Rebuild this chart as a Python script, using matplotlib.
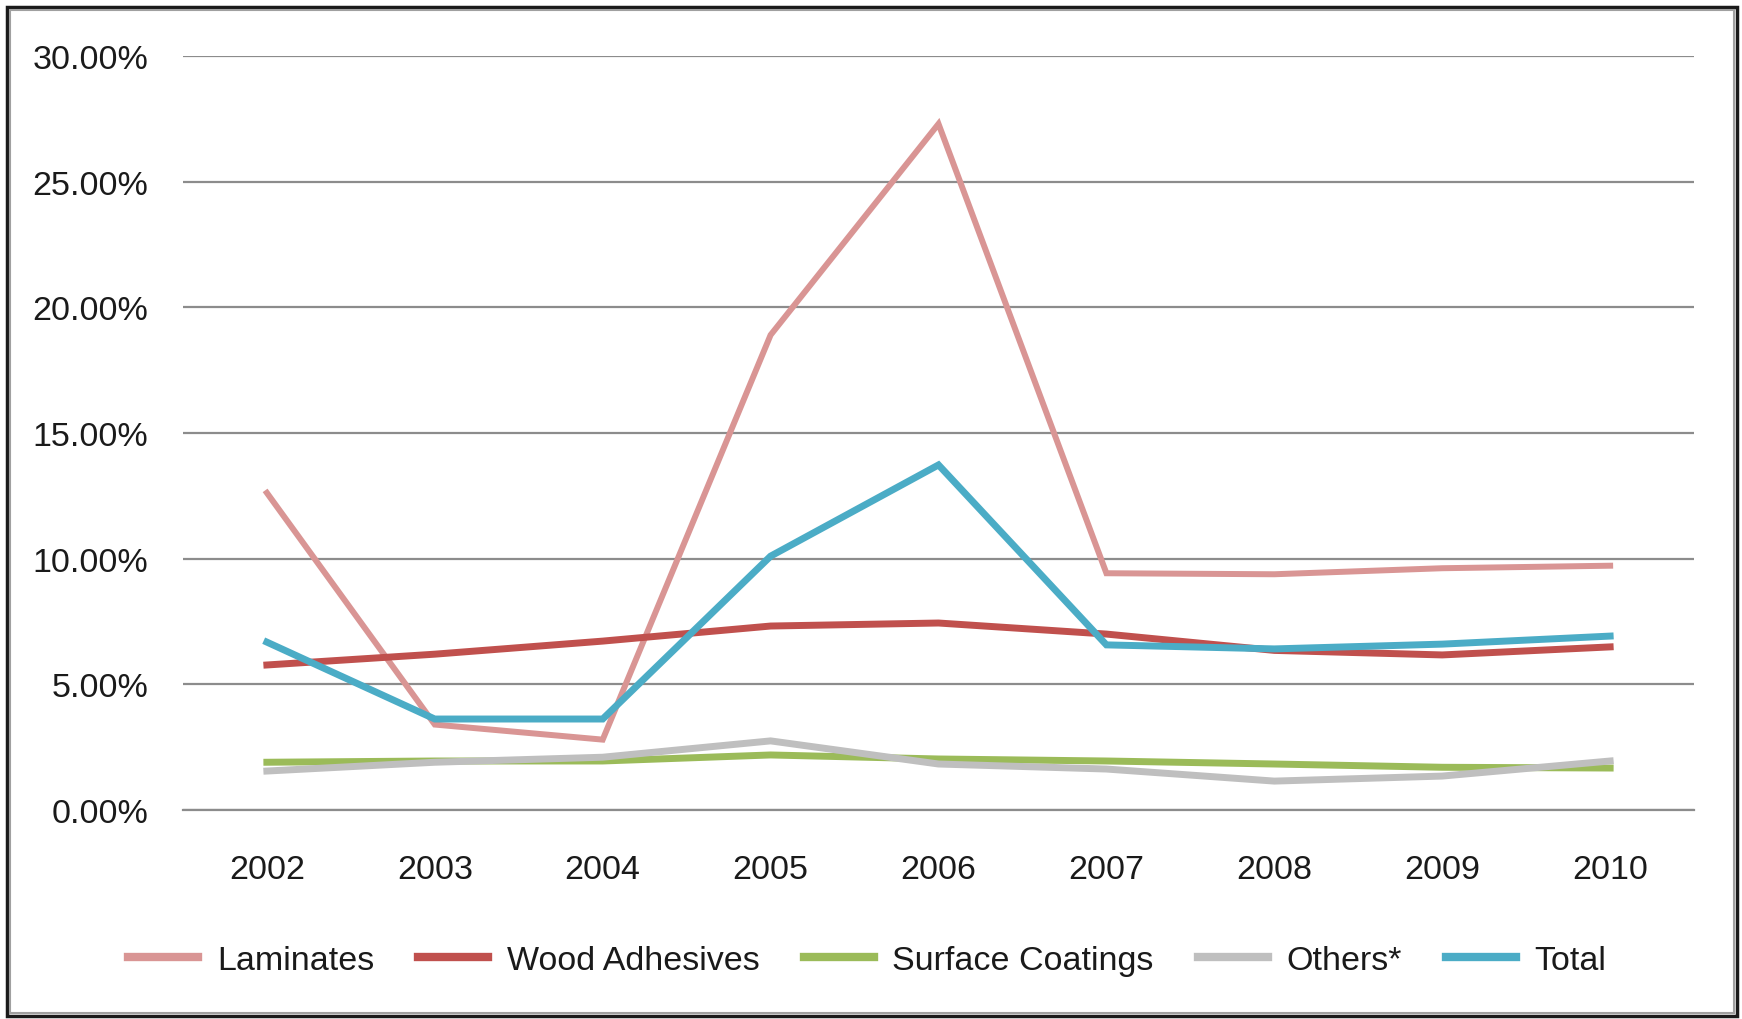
import matplotlib.pyplot as plt
from matplotlib.patches import Rectangle
from matplotlib.ticker import FuncFormatter

years = ["2002", "2003", "2004", "2005", "2006", "2007", "2008", "2009", "2010"]
laminates = [12.62, 3.40, 2.80, 18.90, 27.30, 9.42, 9.38, 9.62, 9.72]
wood_adhesives = [5.77, 6.20, 6.72, 7.32, 7.44, 7.00, 6.35, 6.17, 6.49]
surface_coatings = [1.90, 1.95, 1.95, 2.19, 2.03, 1.95, 1.83, 1.70, 1.67]
others = [1.55, 1.90, 2.10, 2.75, 1.83, 1.63, 1.15, 1.35, 1.95]
total = [6.68, 3.62, 3.62, 10.10, 13.73, 6.57, 6.41, 6.60, 6.92]

plt.rcParams['font.family'] = ['Liberation Sans', 'DejaVu Sans']

fig = plt.figure(figsize=(17.42, 10.20), dpi=100)
ax = fig.add_axes([0.105, 0.2049, 0.8675, 0.7392])

x = range(len(years))
series = [
    ("Laminates", laminates, "#D99594", 4.3),
    ("Wood Adhesives", wood_adhesives, "#C0504D", 5.0),
    ("Surface Coatings", surface_coatings, "#9BBB59", 5.0),
    ("Others*", others, "#BFBFBF", 5.0),
    ("Total", total, "#4BACC6", 5.0),
]
for name, vals, col, lw in series:
    ax.plot(x, vals, color=col, lw=lw, label=name, solid_joinstyle='miter', zorder=3)

ax.set_xlim(-0.5, len(years) - 0.5)
ax.set_ylim(0, 30)
ax.set_yticks([0, 5, 10, 15, 20, 25, 30])
ax.yaxis.set_major_formatter(FuncFormatter(lambda v, p: f"{v:.2f}%"))
ax.set_xticks(list(x))
ax.set_xticklabels(years)
ax.grid(axis='y', color='#8C8C8C', lw=1.6, zorder=1)
ax.tick_params(axis='y', length=0, pad=25, labelsize=24.5, colors='#1A1A1A')
ax.tick_params(axis='x', length=0, pad=32, labelsize=24.5, colors='#1A1A1A')
for s in ['top', 'right', 'left']:
    ax.spines[s].set_visible(False)
ax.spines['bottom'].set_color('#8C8C8C')
ax.spines['bottom'].set_linewidth(1.6)

leg = fig.legend(loc='center', bbox_to_anchor=(0.498, 0.057), ncol=5, frameon=False,
                 fontsize=24.5, handlelength=2.05, handletextpad=0.55, columnspacing=1.3,
                 labelcolor='#1A1A1A')
for h in leg.legend_handles:
    h.set_linewidth(6)

# outer frame around the chart
fig.patches.append(Rectangle((7 / 1742, 3 / 1020), 1730 / 1742, 1009 / 1020,
                             transform=fig.transFigure, fill=False,
                             edgecolor='#1A1A1A', lw=2.5))
fig.patches.append(Rectangle((10 / 1742, 6 / 1020), 1724 / 1742, 1003 / 1020,
                             transform=fig.transFigure, fill=False,
                             edgecolor='#A0A0A0', lw=1.5))

fig.savefig("out.png", dpi=100)
